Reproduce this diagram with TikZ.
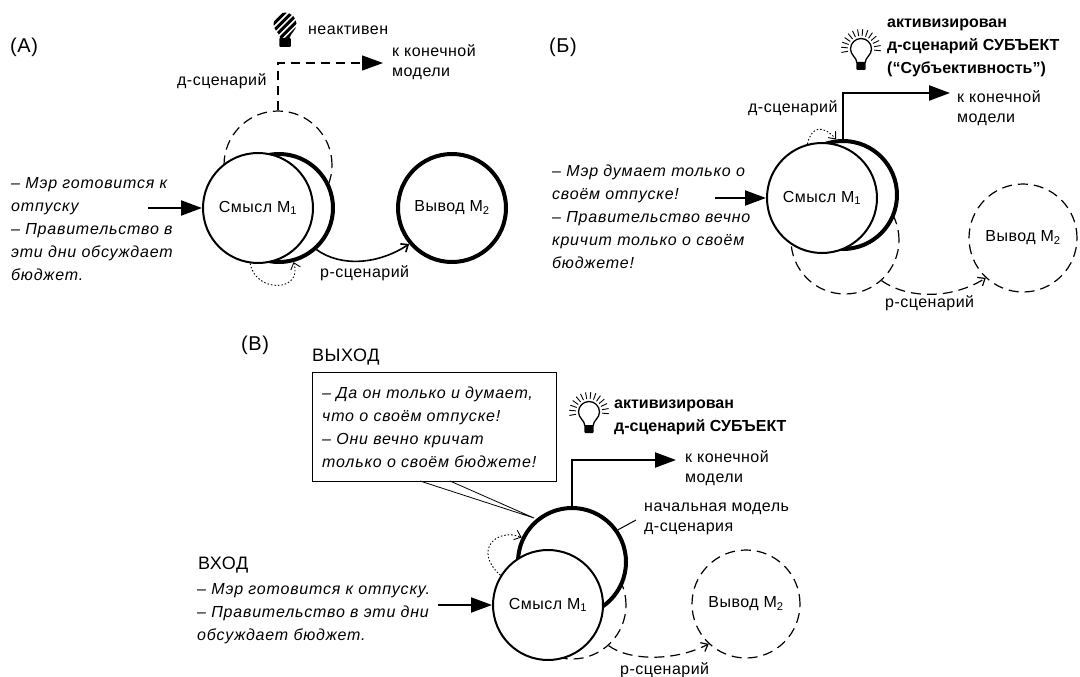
\documentclass[tikz,border=0pt]{standalone}
\usepackage{fontspec}
\setmainfont{Liberation Sans}[UprightFeatures={LetterSpace=3},ItalicFeatures={LetterSpace=5}]
\usetikzlibrary{arrows.meta}
\tikzset{
	txt/.style={anchor=west,inner sep=0pt,font=\fontsize{16}{20}\selectfont,align=left},
	said/.style={anchor=west,inner sep=0pt,font=\fontsize{16}{23}\selectfont\itshape,align=left},
	boldtxt/.style={anchor=west,inner sep=0pt,font=\fontsize{16}{23}\selectfont\bfseries,align=left},
	panel/.style={anchor=west,inner sep=0pt,font=\fontsize{20}{24}\selectfont},
	sense/.style={circle,draw,fill=white,line width=2pt,minimum size=110pt,inner sep=0pt,font=\fontsize{16}{20}\selectfont},
	model/.style={circle,draw,fill=white,line width=4pt,minimum size=108pt,inner sep=0pt,font=\fontsize{16}{20}\selectfont},
	ghost/.style={circle,draw,line width=1.2pt,dash pattern=on 10pt off 6pt,minimum size=108pt,inner sep=0pt,font=\fontsize{16}{20}\selectfont},
	bigtip/.style={-{Triangle[length=21pt,width=15pt]}},
	smalltip/.style={-{Straight Barb[length=6pt,width=10pt]}},
	dots/.style={line width=0.9pt,dash pattern=on 1.5pt off 2pt,smalltip},
}
\newcommand {\lampshape}{(-0.4,1.3) .. controls (-0.4,0.8) and (-1,0.6) .. (-1,0) .. controls (-1,-0.55) and (-0.55,-1) .. (0,-1) .. controls (0.55,-1) and (1,-0.55) .. (1,0) .. controls (1,0.6) and (0.4,0.8) .. (0.4,1.3) -- cycle}
\newcommand {\lampoff}[3] {\begin{scope}[shift={(#1,#2)},scale=#3]
		\begin{scope}
			\clip \lampshape;
			\foreach \s in {-2.2,-1.6,...,2.6}
				\draw[line width=3pt] (\s-1.5,1.5) -- (\s+1.5,-1.5);
		\end{scope}
		\fill[rounded corners=1pt] (-0.5,1.2) rectangle (0.5,2);
	\end{scope}}
\newcommand {\lampon}[3] {\begin{scope}[shift={(#1,#2)},scale=#3]
		\draw[line width=1.3pt] \lampshape;
		\fill[rounded corners=1pt] (-0.45,1.3) rectangle (0.45,2);
		\foreach \a in {-190,-175,...,10}
			\draw[line width=0.9pt] (\a:1.25) -- (\a:1.9);
	\end{scope}}

\begin{document}
\begin{tikzpicture}[x=1pt,y=-1pt]
	\useasboundingbox (0,0) rectangle (1080,677);
	% panel A
	\node[panel] (titleA) at (10,47) {(А)};
	\node[ghost] (loopA) at (278,165) {};
	\node[model] (modelA) at (279,208) {};
	\node[sense] (senseA) at (258,208) {Смысл М\textsubscript{1}};
	\node[model] (resultA) at (452,208) {Вывод М\textsubscript{2}};
	\lampoff{285}{24}{11.5}
	\node[txt] (offA) at (308,30) {неактивен};
	\node[txt] (finalA) at (392,62) {к конечной\\модели};
	\node[txt] (scenA) at (177,81) {д-сценарий};
	\node[txt] (scenrA) at (320,273) {р-сценарий};
	\node[said] (inA) at (11,229) {-- Мэр готовится к\\отпуску\\-- Правительство в\\эти дни обсуждает\\бюджет.};
	\coordinate (startA) at (148,208);
	\coordinate (tipA) at (383,63);
	\draw[bigtip,line width=2pt] (startA) -- (senseA);
	\draw[line width=1.3pt,dash pattern=on 9pt off 6pt,bigtip] (loopA.north) |- (tipA);
	\draw[line width=1.6pt,smalltip] (modelA.-48) .. controls +(25,18) and +(-30,20) .. (resultA.-140);
	\draw[dots] (senseA.-98) .. controls +(5,30) and +(10,30) .. (modelA.-75);
	% panel B
	\node[panel] (titleB) at (549,47) {(Б)};
	\node[ghost] (loopB) at (845,240) {};
	\node[model] (modelB) at (843,195) {};
	\node[sense] (senseB) at (822,198) {Смысл М\textsubscript{1}};
	\node[ghost] (resultB) at (1023,238) {Вывод М\textsubscript{2}};
	\lampon{861}{49}{10.5}
	\node[boldtxt] (onB) at (887,48) {активизирован\\д-сценарий СУБЪЕКТ\\(“Субъективность”)};
	\node[txt] (finalB) at (957,108) {к конечной\\модели};
	\node[txt] (scenB) at (748,108) {д-сценарий};
	\node[txt] (scenrB) at (885,303) {р-сценарий};
	\node[said] (inB) at (552,217) {-- Мэр думает только о\\своём отпуске!\\-- Правительство вечно\\кричит только о своём\\бюджете!};
	\coordinate (startB) at (715,198);
	\coordinate (tipB) at (950,93);
	\draw[bigtip,line width=2pt] (startB) -- (senseB);
	\draw[line width=2.2pt,bigtip] (modelB.north) |- (tipB);
	\draw[line width=1.2pt,dash pattern=on 10pt off 6pt,smalltip] (loopB.-48) .. controls +(25,18) and +(-35,22) .. (resultB.-133);
	\draw[dots] (senseB.105) .. controls +(3,-16) and +(-14,-16) .. (modelB.97);
	% panel C
	\node[panel] (titleC) at (241,345) {(В)};
	\node[panel,font=\fontsize{18}{22}\selectfont] (outC) at (312,357) {ВЫХОД};
	\node[panel,font=\fontsize{18}{22}\selectfont] (inputC) at (198,565) {ВХОД};
	\coordinate (tailC) at (534,518);
	\coordinate (tailleftC) at (420,481);
	\coordinate (tailrightC) at (450,481);
	\node[draw,line width=0.8pt,fill=white,minimum width=244pt,minimum height=109pt,inner sep=0pt] (boxC) at (434,426.5) {};
	\node[said] (saidC) at (322,427) {-- Да он только и думает,\\что о своём отпуске!\\-- Они вечно кричат\\только о своём бюджете!};
	\draw[line width=0.8pt] (tailleftC) -- (tailC) -- (tailrightC);
	\node[ghost] (loopC) at (572,605) {};
	\node[model] (modelC) at (572,562) {};
	\node[sense] (senseC) at (548,605) {Смысл М\textsubscript{1}};
	\node[ghost] (resultC) at (746,604) {Вывод М\textsubscript{2}};
	\lampon{589}{412}{10.5}
	\node[boldtxt] (onC) at (614,417) {активизирован\\д-сценарий СУБЪЕКТ};
	\node[txt] (finalC) at (685,468) {к конечной\\модели};
	\node[txt] (startmodelC) at (644,519) {начальная модель\\д-сценария};
	\node[txt] (scenrC) at (620,670) {р-сценарий};
	\node[said] (inC) at (197,614) {-- Мэр готовится к отпуску.\\-- Правительство в эти дни\\обсуждает бюджет.};
	\coordinate (startC) at (438,605);
	\coordinate (tipC) at (676,460);
	\coordinate (leaderC) at (636,520);
	\draw[bigtip,line width=2pt] (startC) -- (senseC);
	\draw[line width=2.2pt,bigtip] (modelC.north) |- (tipC);
	\draw[line width=1pt] (leaderC) -- (modelC.35);
	\draw[line width=1.2pt,dash pattern=on 10pt off 6pt,smalltip] (loopC.-48) .. controls +(20,15) and +(-35,18) .. (resultC.-133);
	\draw[dots] (senseC.148) .. controls +(-28,-25) and +(-25,-10) .. (modelC.154);
\end{tikzpicture}
\end{document}
